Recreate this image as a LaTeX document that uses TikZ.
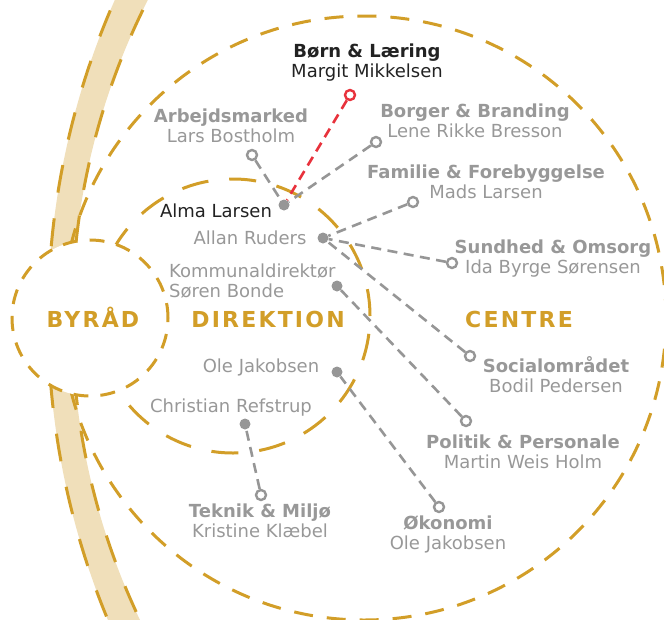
\documentclass[tikz,border=0pt]{standalone}
\usepackage{fontspec}
\setmainfont{DejaVu Sans}
\newfontfamily\bigfont[LetterSpace=10]{DejaVu Sans}
\definecolor{gold}{RGB}{210,158,40}
\definecolor{beige}{RGB}{240,223,186}
\definecolor{txtgray}{RGB}{152,152,152}
\definecolor{lngray}{RGB}{150,150,150}
\definecolor{darktxt}{RGB}{34,34,34}
\definecolor{redl}{RGB}{232,50,60}
\newcommand\twolab[2]{\strut\textbf{#1}\\\strut #2}
\tikzset{
  goldline/.style={draw=gold, line width=3pt},
  conn/.style={draw=lngray, line width=2.6pt, dash pattern=on 10pt off 6.5pt},
  redconn/.style={draw=redl, line width=2.6pt, dash pattern=on 10pt off 6.5pt},
  endpt/.style={circle, draw=lngray, line width=2.4pt, fill=white, inner sep=0pt, minimum size=10pt},
  hubpt/.style={circle, fill=lngray, inner sep=0pt, minimum size=11pt},
  unitlab/.style={align=center, font=\fontsize{18}{20}\selectfont, text=txtgray, inner sep=0pt},
  memlab/.style={font=\fontsize{18}{20}\selectfont, text=txtgray, inner sep=0pt, anchor=base},
  biglab/.style={font=\bigfont\bfseries\fontsize{22}{26}\selectfont, text=gold, anchor=base, inner sep=0pt}
}
\begin{document}
\begin{tikzpicture}[x=1pt,y=-1pt]
\useasboundingbox (0,0) rectangle (664,619);
% band
\begin{scope}
\clip (0,0) rectangle (664,619);
\fill[beige, even odd rule] (836,318) circle[radius=788pt] (775,318) circle[radius=703pt];
\draw[goldline, dash pattern=on 28pt off 26pt] (836,318) circle[radius=788pt];
\draw[goldline, dash pattern=on 28pt off 26pt] (775,318) circle[radius=703pt];
\end{scope}
% outer circle (centres)
\node[circle, goldline, dash pattern=on 19pt off 14pt, minimum size=604pt, inner sep=0pt] (centreC) at (364,318) {};
% direktion circle
\node[circle, goldline, dash pattern=on 27pt off 21pt, minimum size=274pt, inner sep=0pt] (direkC) at (233,316) {};
% byraad circle
\node[circle, goldline, dash pattern=on 15pt off 12pt, fill=white, minimum size=156pt, inner sep=0pt] (byradC) at (90,318) {};

% big labels
\node[biglab] (tByrad) at (93,327) {BYRÅD};
\node[biglab] (tDirek) at (268,327) {DIREKTION};
\node[biglab] (tCentre) at (519,327) {CENTRE};

% hubs
\node[hubpt] (hAlma) at (284,205) {};
\node[hubpt] (hAllan) at (323,238) {};
\node[hubpt] (hKom) at (337,286) {};
\node[hubpt] (hOle) at (337,372) {};
\node[hubpt] (hChr) at (245,424) {};

% end points
\node[endpt, draw=redl] (eBorn) at (350,95) {};
\node[endpt] (eArb) at (252,155) {};
\node[endpt] (eBorger) at (376,142) {};
\node[endpt] (eFam) at (413,202) {};
\node[endpt] (eSund) at (452,263) {};
\node[endpt] (eSoc) at (470,356) {};
\node[endpt] (ePol) at (466,421) {};
\node[endpt] (eOko) at (439,507) {};
\node[endpt] (eTek) at (261,495) {};

% connectors
\draw[conn] (eArb) -- (hAlma);
\draw[conn] (eBorger) -- (hAlma);
\draw[conn] (eFam) -- (hAllan);
\draw[conn] (eSund) -- (hAllan);
\draw[conn] (eSoc) -- (hAllan);
\draw[conn] (ePol) -- (hKom);
\draw[conn] (eOko) -- (hOle);
\draw[conn] (eTek) -- (hChr);
\draw[redconn] (eBorn) -- (hAlma);

% unit labels
\node[unitlab, text=darktxt] (lBorn) at (367,63) {\twolab{Børn \& Læring}{Margit Mikkelsen}};
\node[unitlab] (lArb) at (231,128) {\twolab{Arbejdsmarked}{Lars Bostholm}};
\node[unitlab] (lBorger) at (475,123) {\twolab{Borger \& Branding}{Lene Rikke Bresson}};
\node[unitlab] (lFam) at (486,184) {\twolab{Familie \& Forebyggelse}{Mads Larsen}};
\node[unitlab] (lSund) at (553,259) {\twolab{Sundhed \& Omsorg}{Ida Byrge Sørensen}};
\node[unitlab] (lSoc) at (556,377) {\twolab{Socialområdet}{Bodil Pedersen}};
\node[unitlab] (lPol) at (523,454) {\twolab{Politik \& Personale}{Martin Weis Holm}};
\node[unitlab] (lOko) at (448,535) {\twolab{Økonomi}{Ole Jakobsen}};
\node[unitlab] (lTek) at (260,523) {\twolab{Teknik \& Miljø}{Kristine Klæbel}};

% direktion members
\node[memlab, text=darktxt] (mAlma) at (216,217) {Alma Larsen};
\node[memlab] (mAllan) at (250,244) {Allan Ruders};
\node[unitlab, align=left, anchor=west] (mKom) at (169,283) {\strut Kommunaldirektør\\\strut Søren Bonde};
\node[memlab] (mOle) at (261,372) {Ole Jakobsen};
\node[memlab] (mChr) at (231,412) {Christian Refstrup};
\end{tikzpicture}
\end{document}
